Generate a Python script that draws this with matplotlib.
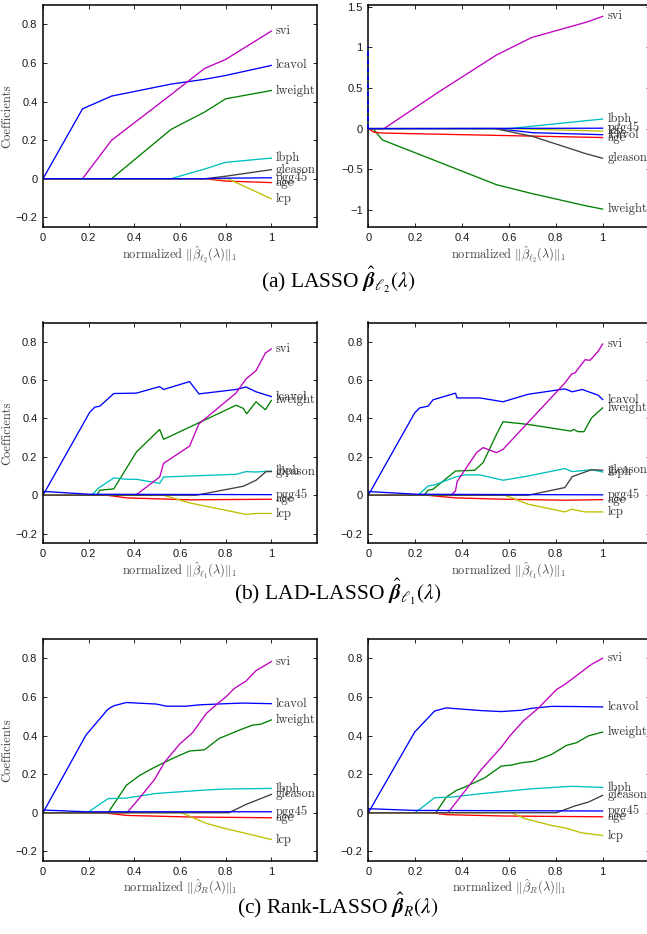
import matplotlib
matplotlib.use("Agg")
import matplotlib.pyplot as plt
from matplotlib.ticker import FixedLocator, FuncFormatter
import numpy as np

# ---------------- data ----------------
names = ['lcavol', 'lweight', 'age', 'lbph', 'svi', 'lcp', 'gleason', 'pgg45']
colors = [(0, 0, 1), (0, 0.5, 0), (1, 0, 0), (0, 0.75, 0.75),
          (0.75, 0, 0.75), (0.75, 0.75, 0), (0.25, 0.25, 0.25), (0, 0, 1)]

# (a) LASSO, left
a1_lcavol = [(0, 0), (0.173, 0.362), (0.3, 0.428), (0.56, 0.49), (0.707, 0.515), (0.8, 0.535), (1, 0.587)]
a1_lweight = [(0, 0), (0.3, 0), (0.56, 0.255), (0.707, 0.345), (0.8, 0.414), (1, 0.457)]
a1_age = [(0, 0), (0.707, 0), (0.8, -0.012), (1, -0.02)]
a1_lbph = [(0, 0), (0.56, 0), (0.707, 0.05), (0.8, 0.085), (1, 0.107)]
a1_svi = [(0, 0), (0.173, 0), (0.3, 0.199), (0.56, 0.435), (0.707, 0.571), (0.8, 0.618), (1, 0.765)]
a1_lcp = [(0, 0), (0.81, 0), (1, -0.104)]
a1_gleason = [(0, 0), (0.707, 0), (0.8, 0.013), (1, 0.047)]
a1_pgg45 = [(0, 0), (0.707, 0), (0.8, 0.003), (1, 0.005)]

# (a) LASSO, right
a2_lcavol = [(0, 0), (0.55, 0), (0.7, -0.05), (1, -0.075)]
a2_lweight = [(0, 0), (0.02, 0), (0.06, -0.139), (0.3, -0.41), (0.547, -0.69), (0.7, -0.80), (0.93, -0.95), (1, -0.99)]
a2_age = [(0, 0), (0.025, -0.045), (0.067, -0.055), (1, -0.11)]
a2_lbph = [(0, 0), (0.6, 0), (1, 0.118)]
a2_svi = [(0, 0), (0.067, 0), (0.3, 0.45), (0.547, 0.905), (0.697, 1.12), (0.932, 1.31), (1, 1.38)]
a2_lcp = [(0, 0), (0.6, 0), (1, -0.03)]
a2_gleason = [(0, 0), (0.54, 0), (0.7, -0.095), (0.93, -0.31), (1, -0.365)]
a2_pgg45 = [(0, 0), (1, 0.005)]
a2_spike = [(0, 0), (0, 1.0)]

# (b) LAD-LASSO, left
b1_lcavol = [(0, 0), (0.205, 0.433), (0.227, 0.459), (0.249, 0.464), (0.31, 0.53), (0.409, 0.532), (0.511, 0.566),
             (0.528, 0.551), (0.642, 0.592), (0.683, 0.528), (0.846, 0.551), (0.889, 0.564), (0.933, 0.539), (1, 0.514)]
b1_lweight = [(0, 0), (0.235, 0), (0.249, 0.026), (0.31, 0.033), (0.409, 0.225), (0.511, 0.343), (0.528, 0.291),
              (0.846, 0.469), (0.878, 0.452), (0.892, 0.424), (0.933, 0.487), (0.974, 0.445), (1, 0.494)]
b1_age = [(0, 0), (0.278, 0), (0.368, -0.014), (0.642, -0.024), (1, -0.021)]
b1_lbph = [(0, 0), (0.213, 0), (0.242, 0.036), (0.31, 0.09), (0.368, 0.083), (0.409, 0.083), (0.511, 0.062),
           (0.528, 0.095), (0.846, 0.109), (0.889, 0.123), (0.933, 0.121), (1, 0.126)]
b1_svi = [(0, 0), (0.409, 0.003), (0.511, 0.095), (0.528, 0.166), (0.642, 0.256), (0.683, 0.372), (0.846, 0.533),
          (0.889, 0.606), (0.933, 0.649), (0.974, 0.741), (1, 0.762)]
b1_lcp = [(0, 0), (0.528, 0), (0.642, -0.04), (0.889, -0.1), (0.933, -0.095), (1, -0.095)]
b1_gleason = [(0, 0), (0.671, 0), (0.878, 0.047), (0.933, 0.078), (0.977, 0.123), (1, 0.123)]
b1_pgg45 = [(0, 0.02), (0.205, 0.005), (1, 0.003)]

# (b) LAD-LASSO, right
b2_lcavol = [(0, 0), (0.198, 0.429), (0.219, 0.455), (0.255, 0.464), (0.276, 0.497), (0.372, 0.532), (0.379, 0.507),
             (0.476, 0.507), (0.575, 0.487), (0.682, 0.526), (0.839, 0.554), (0.870, 0.539), (0.913, 0.551),
             (0.981, 0.521), (1, 0.499)]
b2_lweight = [(0, 0), (0.238, 0), (0.255, 0.026), (0.276, 0.031), (0.372, 0.126), (0.454, 0.13), (0.49, 0.17),
              (0.547, 0.317), (0.575, 0.383), (0.682, 0.369), (0.865, 0.334), (0.875, 0.343), (0.896, 0.331),
              (0.92, 0.331), (0.953, 0.403), (1, 0.455)]
b2_age = [(0, 0), (0.25, 0), (0.372, -0.014), (0.583, -0.021), (0.839, -0.026), (1, -0.023)]
b2_lbph = [(0, 0), (0.212, 0), (0.255, 0.048), (0.283, 0.054), (0.372, 0.095), (0.412, 0.106), (0.476, 0.106),
           (0.575, 0.078), (0.682, 0.1), (0.839, 0.139), (0.87, 0.123), (0.953, 0.133), (1, 0.121)]
b2_svi = [(0, 0), (0.355, 0.003), (0.372, 0.022), (0.379, 0.071), (0.462, 0.222), (0.49, 0.248), (0.547, 0.222),
          (0.575, 0.239), (0.839, 0.585), (0.868, 0.632), (0.882, 0.637), (0.925, 0.706), (0.946, 0.703),
          (0.981, 0.75), (1, 0.788)]
b2_lcp = [(0, 0), (0.583, 0), (0.682, -0.047), (0.839, -0.087), (0.868, -0.073), (0.925, -0.087), (1, -0.087)]
b2_gleason = [(0, 0), (0.682, 0), (0.839, 0.04), (0.87, 0.097), (0.953, 0.133), (1, 0.13)]
b2_pgg45 = [(0, 0.019), (0.212, 0.005), (1, 0.002)]

# (c) Rank-LASSO, left
c1_lcavol = [(0, 0), (0.188, 0.402), (0.285, 0.537), (0.31, 0.554), (0.365, 0.571), (0.496, 0.563), (0.54, 0.552),
             (0.627, 0.552), (0.686, 0.559), (0.802, 0.565), (0.875, 0.568), (1, 0.565)]
c1_lweight = [(0, 0), (0.285, 0), (0.365, 0.142), (0.424, 0.194), (0.489, 0.236), (0.569, 0.282), (0.642, 0.32),
              (0.707, 0.326), (0.773, 0.386), (0.809, 0.403), (0.86, 0.428), (0.918, 0.454), (0.955, 0.459), (1, 0.481)]
c1_age = [(0, 0), (0.26, 0), (0.368, -0.014), (0.642, -0.022), (1, -0.026)]
c1_lbph = [(0, 0), (0.194, 0), (0.285, 0.073), (0.365, 0.076), (0.496, 0.1), (0.715, 0.118), (0.802, 0.123), (1, 0.126)]
c1_svi = [(0, 0), (0.368, 0), (0.424, 0.078), (0.489, 0.173), (0.533, 0.263), (0.598, 0.355), (0.656, 0.416),
          (0.715, 0.514), (0.758, 0.559), (0.802, 0.601), (0.838, 0.644), (0.889, 0.682), (0.933, 0.736), (1, 0.783)]
c1_lcp = [(0, 0), (0.606, 0), (0.715, -0.055), (0.802, -0.083), (0.889, -0.107), (1, -0.139)]
c1_gleason = [(0, 0), (0.814, 0), (0.889, 0.043), (1, 0.095)]
c1_pgg45 = [(0, 0.014), (0.19, 0.005), (1, 0.005)]

# (c) Rank-LASSO, right
c2_lcavol = [(0, 0), (0.198, 0.418), (0.283, 0.527), (0.333, 0.543), (0.397, 0.537), (0.483, 0.529), (0.568, 0.524),
             (0.654, 0.531), (0.697, 0.541), (0.782, 0.551), (0.896, 0.55), (1, 0.548)]
c2_lweight = [(0, 0), (0.288, 0), (0.333, 0.081), (0.376, 0.116), (0.412, 0.133), (0.497, 0.181), (0.568, 0.242),
              (0.611, 0.247), (0.654, 0.259), (0.704, 0.266), (0.782, 0.302), (0.846, 0.349), (0.889, 0.363),
              (0.939, 0.398), (1, 0.418)]
c2_age = [(0, 0), (0.27, 0), (0.333, -0.01), (0.583, -0.017), (1, -0.021)]
c2_lbph = [(0, 0), (0.2, 0), (0.283, 0.078), (0.355, 0.081), (0.483, 0.099), (0.697, 0.124), (0.868, 0.137), (1, 0.131)]
c2_svi = [(0, 0), (0.34, 0), (0.412, 0.112), (0.483, 0.225), (0.568, 0.34), (0.604, 0.398), (0.661, 0.475),
          (0.725, 0.541), (0.803, 0.638), (0.839, 0.665), (0.896, 0.717), (0.953, 0.769), (1, 0.8)]
c2_lcp = [(0, 0), (0.611, 0), (0.668, -0.03), (0.725, -0.048), (0.782, -0.066), (0.839, -0.078), (0.91, -0.104), (1, -0.118)]
c2_gleason = [(0, 0), (0.803, 0), (0.881, 0.035), (0.939, 0.055), (1, 0.09)]
c2_pgg45 = [(0, 0.021), (0.198, 0.012), (1, 0.009)]

x_ticks = [0, 0.2, 0.4, 0.6, 0.8, 1]
y_ticks_small = [-0.2, 0, 0.2, 0.4, 0.6, 0.8]
y_ticks_big = [-1, -0.5, 0, 0.5, 1, 1.5]
xlabels = [r'normalized $\|\hat{\beta}_{\ell_2}(\lambda)\|_1$',
           r'normalized $\|\hat{\beta}_{\ell_1}(\lambda)\|_1$',
           r'normalized $\|\hat{\beta}_{R}(\lambda)\|_1$']
captions = [r'(a) LASSO $\hat{\boldsymbol{\beta}}_{\ell_2}(\lambda)$',
            r'(b) LAD-LASSO $\hat{\boldsymbol{\beta}}_{\ell_1}(\lambda)$',
            r'(c) Rank-LASSO $\hat{\boldsymbol{\beta}}_R(\lambda)$']

panels = [
    [a1_lcavol, a1_lweight, a1_age, a1_lbph, a1_svi, a1_lcp, a1_gleason, a1_pgg45],
    [a2_lcavol, a2_lweight, a2_age, a2_lbph, a2_svi, a2_lcp, a2_gleason, a2_pgg45],
    [b1_lcavol, b1_lweight, b1_age, b1_lbph, b1_svi, b1_lcp, b1_gleason, b1_pgg45],
    [b2_lcavol, b2_lweight, b2_age, b2_lbph, b2_svi, b2_lcp, b2_gleason, b2_pgg45],
    [c1_lcavol, c1_lweight, c1_age, c1_lbph, c1_svi, c1_lcp, c1_gleason, c1_pgg45],
    [c2_lcavol, c2_lweight, c2_age, c2_lbph, c2_svi, c2_lcp, c2_gleason, c2_pgg45],
]

# ---------------- layout ----------------
W, H = 647, 934
fig = plt.figure(figsize=(W / 100, H / 100), dpi=100)

col_x = [(43, 317), (368.3, 649.5)]
row_y = [(5, 227), (322.5, 543.2), (639, 861)]
caption_baseline = [288, 600, 913]

label_font = 'cmr10'


def fmt(v, pos):
    s = '%g' % v
    return s.replace('-', '\u2212')


for r in range(3):
    for c in range(2):
        x0, x1 = col_x[c]
        y0, y1 = row_y[r]
        ax = fig.add_axes([x0 / W, 1 - y1 / H, (x1 - x0) / W, (y1 - y0) / H])
        series = panels[r * 2 + c]
        for s, nm, col in zip(series, names, colors):
            arr = np.array(s, dtype=float)
            ax.plot(arr[:, 0], arr[:, 1], color=col, lw=0.95, solid_joinstyle='miter')
        if r == 0 and c == 1:
            sp = np.array(a2_spike)
            ax.plot(sp[:, 0], sp[:, 1], color=(0, 0, 1), lw=1.3, ls=(0, (2.5, 2)),
                    clip_on=False, zorder=5)
        for s, nm in zip(series, names):
            ax.text(1.02, s[-1][1], nm, family=label_font, size=9, color='#333333',
                    ha='left', va='center', clip_on=False)
        ax.set_xlim(0, 1.2)
        if r == 0 and c == 1:
            ax.set_ylim(-1.21, 1.52)
            ax.yaxis.set_major_locator(FixedLocator(y_ticks_big))
        else:
            ax.set_ylim(-0.25, 0.9)
            ax.yaxis.set_major_locator(FixedLocator(y_ticks_small))
        ax.xaxis.set_major_locator(FixedLocator(x_ticks))
        ax.xaxis.set_major_formatter(FuncFormatter(fmt))
        ax.yaxis.set_major_formatter(FuncFormatter(fmt))
        ax.tick_params(direction='in', length=3, width=0.6, top=True, right=True,
                       pad=4, labelsize=8, labelcolor='#1a1a1a')
        for lab in ax.get_xticklabels() + ax.get_yticklabels():
            lab.set_family('Liberation Sans')
        for sp_ in ax.spines.values():
            sp_.set_linewidth(1.1)
        ax.set_xlabel(xlabels[r], family=label_font, size=9, color='#444444',
                      labelpad=1, math_fontfamily='cm')
        if c == 0:
            ax.set_ylabel('Coefficients', family=label_font, size=9, color='#444444',
                          labelpad=2)
    fig.text(338 / W, 1 - caption_baseline[r] / H, captions[r], family='Liberation Serif',
             size=15.5, ha='center', va='baseline', math_fontfamily='stix')

fig.savefig('out.png', dpi=100)
